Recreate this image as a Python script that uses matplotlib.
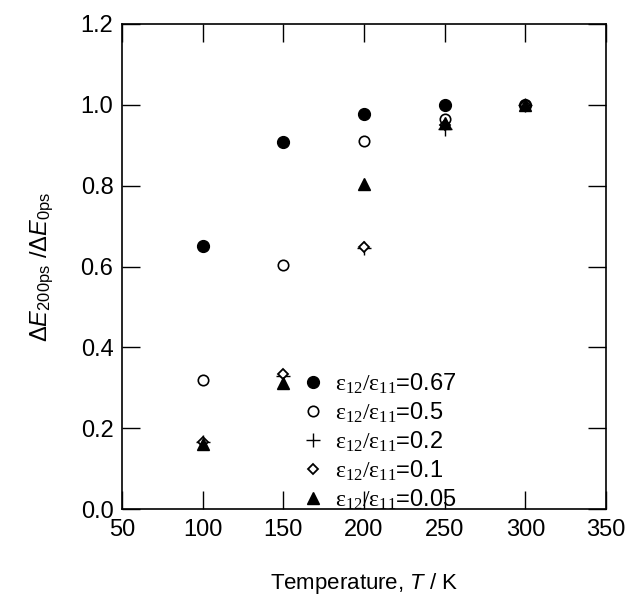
import matplotlib
matplotlib.use('Agg')
import matplotlib.pyplot as plt

plt.rcParams['font.family'] = ['Liberation Sans', 'DejaVu Sans']
plt.rcParams['mathtext.fontset'] = 'custom'
plt.rcParams['mathtext.rm'] = 'Liberation Serif'
plt.rcParams['mathtext.sf'] = 'Liberation Sans'
plt.rcParams['mathtext.it'] = 'Liberation Sans:italic'

# temperature (K)
temps = [100, 150, 200, 250, 300]

# dE(200ps)/dE(0ps) for each eps12/eps11 ratio
r067 = [0.652, 0.908, 0.978, 1.000, 1.000]
r05 = [0.320, 0.604, 0.910, 0.965, 1.000]
r02 = [0.165, 0.330, 0.645, 0.940, 1.000]
r01 = [0.165, 0.335, 0.648, 0.950, 1.000]
r005 = [0.162, 0.312, 0.805, 0.955, 1.000]

labels = ['0.67', '0.5', '0.2', '0.1', '0.05']

fig = plt.figure(figsize=(6.28, 5.99), dpi=100)
ax = fig.add_axes([0.194, 0.150, 0.771, 0.810])

eps = r'$\mathrm{ε_{12}/ε_{11}}$='
ax.plot(temps, r067, 'o', color='black', ms=8.5, label=eps + labels[0])
ax.plot(temps, r05, 'o', mfc='white', mec='black', mew=1.2, ms=7.5, label=eps + labels[1])
ax.plot(temps, r02, '+', color='black', ms=10, mew=1.0, label=eps + labels[2])
ax.plot(temps, r01, 'D', mfc='white', mec='black', mew=1.3, ms=5.5, label=eps + labels[3])
ax.plot(temps, r005, '^', color='black', ms=8.5, label=eps + labels[4])

ax.set_xlim(50, 350)
ax.set_ylim(0.0, 1.2)
ax.set_xticks([50, 100, 150, 200, 250, 300, 350])
ax.set_yticks([0.0, 0.2, 0.4, 0.6, 0.8, 1.0, 1.2])
ax.yaxis.set_major_formatter(matplotlib.ticker.FormatStrFormatter('%.1f'))

ax.tick_params(direction='in', length=13, width=1.0, top=True, right=True,
               labelsize=17)
ax.tick_params(axis='x', pad=7)
ax.tick_params(axis='y', pad=6)
for s in ax.spines.values():
    s.set_linewidth(1.2)

ax.set_xlabel(r'Temperature, $\mathit{T}$ / K', fontsize=16, labelpad=22)
ax.set_ylabel(r'Δ$\mathit{E}$$_{\mathsf{200ps}}$ /Δ$\mathit{E}$$_{\mathsf{0ps}}$',
              fontsize=17, labelpad=18)

ax.legend(loc='upper left', bbox_to_anchor=(0.35, 0.303), frameon=False,
          fontsize=17, handlelength=1.0, handletextpad=0.45,
          labelspacing=0.2, borderaxespad=0)

fig.savefig('out.png', dpi=100)
